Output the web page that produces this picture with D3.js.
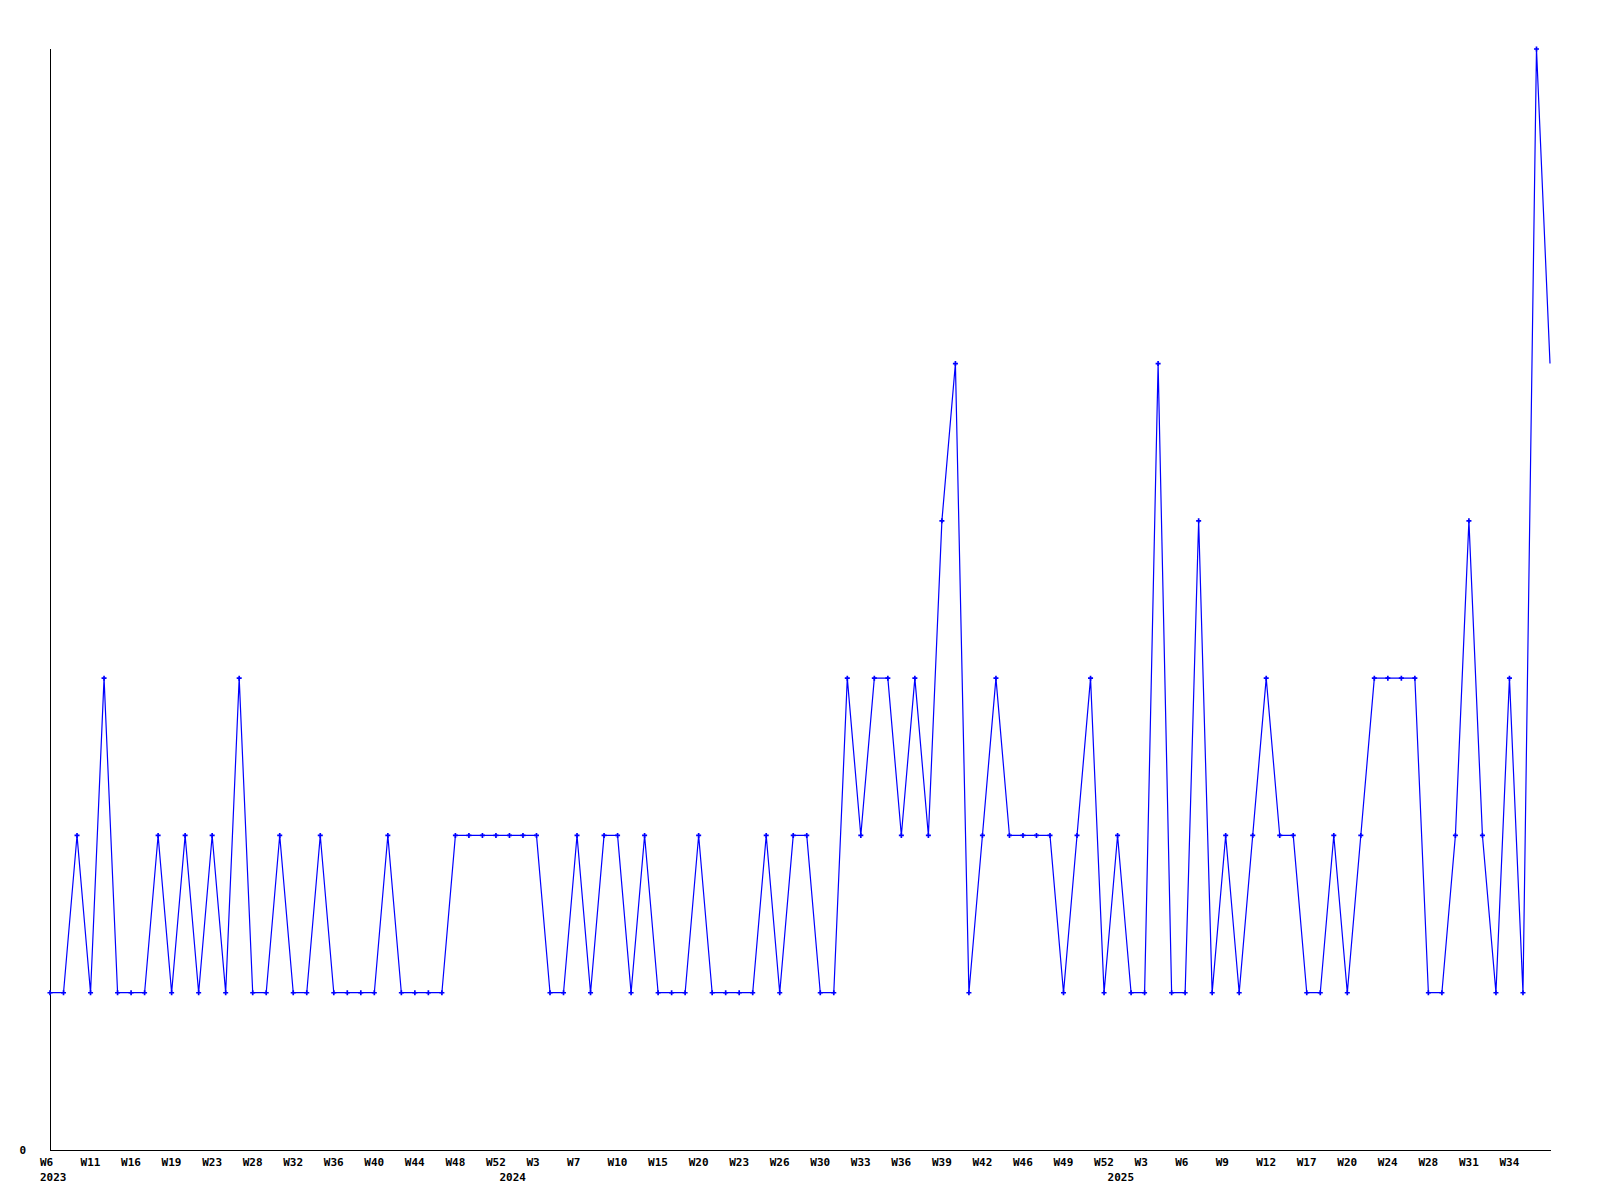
<!DOCTYPE html>
<html><head><meta charset="utf-8">
<script src="https://cdn.jsdelivr.net/npm/d3@7"></script>
<style>
body{margin:0;background:#fff;}
svg text{font-family:"DejaVu Sans Mono",monospace;font-weight:bold;font-size:11px;fill:#000;}
</style></head>
<body><svg id="c" width="1600" height="1200"></svg>
<script>
const weeks2023 = ["W6","W8","W9","W11","W13","W14","W16","W17","W18","W19","W20","W22","W23","W25","W26","W28","W29","W31","W32","W33","W35","W36","W37","W39","W40","W42","W43","W44","W45","W47","W48","W49","W50","W52"];
const weeks2024 = ["W1","W2","W3","W4","W6","W7","W8","W9","W10","W12","W13","W15","W17","W18","W20","W21","W22","W23","W24","W25","W26","W27","W29","W30","W31","W32","W33","W34","W35","W36","W37","W38","W39","W40","W41","W42","W44","W45","W46","W47","W48","W49","W50","W51","W52"];
const weeks2025 = ["W1","W2","W3","W4","W5","W6","W7","W8","W9","W10","W11","W12","W14","W15","W17","W18","W19","W20","W22","W23","W24","W25","W27","W28","W29","W30","W31","W32","W33","W34","W35","W36","W37"];
const values = [1,1,2,1,3,1,1,1,2,1, 2,1,2,1,3,1,1,2,1,1, 2,1,1,1,1,2,1,1,1,1,
  2,2,2,2,2,2,2,1,1,2, 1,2,2,1,2,1,1,1,2,1, 1,1,1,2,1,2,2,1,1,3,
  2,3,3,2,3,2,4,5,1,2, 3,2,2,2,2,1,2,3,1,2, 1,1,5,1,1,4,1,2,1,2,
  3,2,2,1,1,2,1,2,3,3, 3,3,1,1,2,4,2,1,3,1, 7,5];
const yTicks = [0];

const cats = [];
[["2023",weeks2023],["2024",weeks2024],["2025",weeks2025]].forEach(([y,ws])=>ws.forEach((w,i)=>cats.push({key:y+"-"+w,year:y,week:w,first:i===0})));
const data = cats.map((c,i)=>({...c,v:values[i]}));

const svg = d3.select("#c");
const x = d3.scalePoint().domain(cats.map(c=>c.key)).range([50,1550]);
const y = d3.scaleLinear().domain([0,7]).range([1150,49]);

// axes
svg.append("line").attr("x1",50.5).attr("x2",50.5).attr("y1",49).attr("y2",1150).attr("stroke","#000");
svg.append("line").attr("x1",50).attr("x2",1551).attr("y1",1150.5).attr("y2",1150.5).attr("stroke","#000");

svg.selectAll("text.yt").data(yTicks).enter().append("text").attr("class","yt")
  .attr("x",26).attr("y",d=>y(d)+4).attr("text-anchor","end").text(d=>d);

const labelIdx = cats.map((c,i)=>i).filter(i=>i%3===0 && i<cats.length-1);
svg.selectAll("text.wk").data(labelIdx).enter().append("text").attr("class","wk")
  .attr("x",i=>x(cats[i].key)-10).attr("y",1166).text(i=>cats[i].week);
svg.selectAll("text.yr").data(cats.filter(c=>c.first)).enter().append("text").attr("class","yr")
  .attr("x",c=>x(c.key)-10).attr("y",1181).text(c=>c.year);

const line = d3.line().x(d=>x(d.key)).y(d=>y(d.v));
svg.append("path").datum(data).attr("d",line).attr("fill","none").attr("stroke","#0000ff").attr("stroke-width",1.2);

svg.selectAll("path.m").data(data.slice(0,-1)).enter().append("path").attr("class","m")
  .attr("transform",d=>`translate(${x(d.key)},${y(d.v)})`)
  .attr("d",d3.symbol().type(d3.symbolCross).size(14)).attr("fill","#0000ff");
</script></body></html>
